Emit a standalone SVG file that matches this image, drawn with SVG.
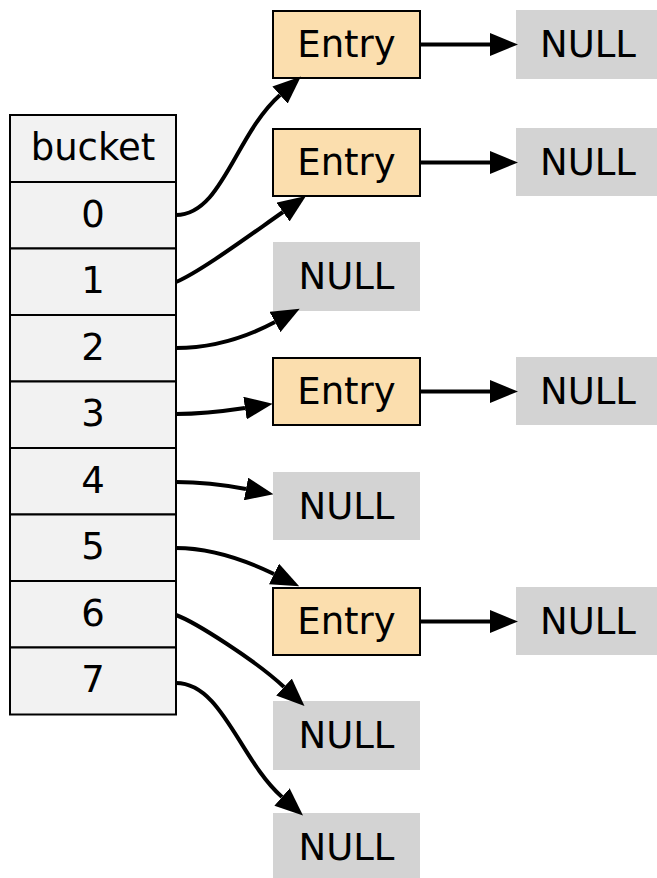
<svg xmlns="http://www.w3.org/2000/svg" width="657" height="878" viewBox="0 0 657 878">
<style>
text{font-family:"DejaVu Sans",sans-serif;font-size:37px;text-anchor:middle;fill:#000}
.cell{fill:#f2f2f2;stroke:#000;stroke-width:2}
.entry{fill:#fbdeae;stroke:#000;stroke-width:2}
.null{fill:#d3d3d3}
.edge{fill:none;stroke:#000;stroke-width:4}
</style>
<defs>
<marker id="ah" viewBox="0 0 28 23" refX="0" refY="11.5" markerWidth="28" markerHeight="23" markerUnits="userSpaceOnUse" orient="auto">
<path d="M0,0 L28,11.5 L0,23 z" fill="#000"/>
</marker>
</defs>
<g id="bucket">
<rect class="cell" x="10" y="115" width="166" height="67"/>
<text x="93" y="160">bucket</text>
<rect class="cell" x="10" y="182" width="166" height="66.5"/>
<text x="93" y="227">0</text>
<rect class="cell" x="10" y="248.5" width="166" height="66.5"/>
<text x="93" y="293">1</text>
<rect class="cell" x="10" y="315" width="166" height="66.5"/>
<text x="93" y="360">2</text>
<rect class="cell" x="10" y="381.5" width="166" height="66.5"/>
<text x="93" y="426">3</text>
<rect class="cell" x="10" y="448" width="166" height="66.5"/>
<text x="93" y="493">4</text>
<rect class="cell" x="10" y="514.5" width="166" height="66.5"/>
<text x="93" y="559">5</text>
<rect class="cell" x="10" y="581" width="166" height="66.5"/>
<text x="93" y="626">6</text>
<rect class="cell" x="10" y="647.5" width="166" height="67"/>
<text x="93" y="692">7</text>
</g>
<g id="entry0"><rect class="entry" x="273" y="11" width="147" height="67"/><text x="346.5" y="57">Entry</text></g>
<g id="entry1"><rect class="entry" x="273" y="129" width="147" height="67"/><text x="346.5" y="175">Entry</text></g>
<g id="null2"><rect class="null" x="273" y="242" width="147" height="69"/><text x="346.5" y="289">NULL</text></g>
<g id="entry3"><rect class="entry" x="273" y="358" width="147" height="67"/><text x="346.5" y="404">Entry</text></g>
<g id="null4"><rect class="null" x="273" y="472" width="147" height="68"/><text x="346.5" y="519">NULL</text></g>
<g id="entry5"><rect class="entry" x="273" y="588" width="147" height="67"/><text x="346.5" y="634">Entry</text></g>
<g id="null6"><rect class="null" x="273" y="701" width="147" height="69"/><text x="346.5" y="748">NULL</text></g>
<g id="null7"><rect class="null" x="273" y="813" width="147" height="65"/><text x="346.5" y="860">NULL</text></g>
<g id="nullA"><rect class="null" x="516" y="10" width="141" height="69"/><text x="588" y="57">NULL</text></g>
<g id="nullB"><rect class="null" x="516" y="128" width="141" height="68"/><text x="588" y="175">NULL</text></g>
<g id="nullC"><rect class="null" x="516" y="357" width="141" height="68"/><text x="588" y="404">NULL</text></g>
<g id="nullD"><rect class="null" x="516" y="587" width="141" height="68"/><text x="588" y="634">NULL</text></g>
<g id="connectors">
<path class="edge" marker-end="url(#ah)" d="M176,215 C222,215 235,135 280,95"/>
<path class="edge" marker-end="url(#ah)" d="M176,282 C200,272 250,235 283,212"/>
<path class="edge" marker-end="url(#ah)" d="M176,348 C210,348 245,338 275,322"/>
<path class="edge" marker-end="url(#ah)" d="M176,414 C200,414 225,411 245,408"/>
<path class="edge" marker-end="url(#ah)" d="M176,482 C200,482 225,485 246,489"/>
<path class="edge" marker-end="url(#ah)" d="M176,548 C210,548 245,560 274,574"/>
<path class="edge" marker-end="url(#ah)" d="M176,615 C195,622 255,660 284,687"/>
<path class="edge" marker-end="url(#ah)" d="M176,683 C222,683 240,760 282,797"/>
<path class="edge" marker-end="url(#ah)" d="M421,44.5 L490,44.5"/>
<path class="edge" marker-end="url(#ah)" d="M421,162.5 L490,162.5"/>
<path class="edge" marker-end="url(#ah)" d="M421,391.5 L490,391.5"/>
<path class="edge" marker-end="url(#ah)" d="M421,621.5 L490,621.5"/>
</g>
</svg>
